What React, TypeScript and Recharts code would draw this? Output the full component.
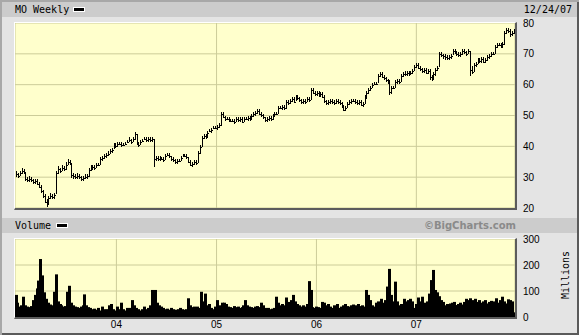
import { ComposedChart, Bar, XAxis, YAxis, CartesianGrid } from 'recharts'

// weekly MO bars, 12/30/02 .. 12/24/07
const closes = [
  31, 30.5, 31.5, 32, 31.5, 29.5, 29, 29.5, 29, 28.5,
  29, 28, 27, 25.5, 24, 22, 21.5, 23.5, 24, 23.5,
  24.5, 31.5, 32.5, 32, 33, 32.5, 34, 35, 34.5, 30.5,
  30.5, 30, 30.5, 30, 29.5, 30, 30, 30.5, 32.5, 33,
  33.5, 33, 34, 34, 36, 36.5, 37, 37.5, 37.5, 38.5,
  39, 40.5, 40, 41, 41, 40.5, 40.5, 41, 41.5, 42,
  41.5, 42.5, 44, 41, 40.5, 41.5, 42, 42.5, 42, 42.5,
  42, 42.5, 36, 36.5, 36, 36.5, 36, 35.5, 37, 37.5,
  37, 36, 35.5, 35, 35.5, 35.5, 36.5, 37, 37, 36.5,
  35, 34, 34.5, 35, 34.5, 38, 40, 43, 43.5, 43,
  44.5, 45, 45.5, 46, 46, 46.5, 47, 50.5, 49.5, 49,
  49, 48.5, 48.5, 48.5, 48, 49, 48.5, 49, 48, 49,
  49, 49.5, 49, 50, 50.5, 51, 51.5, 50.5, 50, 49.5,
  48.5, 49, 49.5, 49, 50, 50.5, 50.5, 52.5, 52.5, 53,
  52.5, 54.5, 54, 55, 55.5, 54.5, 56, 55.5, 55, 54.5,
  55, 54.5, 55.5, 55, 58.5, 57.5, 57, 57.5, 56.5, 57,
  56, 54.5, 54, 54.5, 55, 54.5, 54, 55, 54.5, 54,
  53, 52, 52.5, 54, 54.5, 55, 55, 54.5, 54, 54.5,
  53.5, 54, 56, 57.5, 58.5, 59, 60, 60.5, 60.5, 63,
  63.5, 62.5, 62, 61.5, 61, 57.5, 59, 59, 61, 61.5,
  61, 63, 63.5, 63.5, 64, 63.5, 64, 64.5, 66, 66.5,
  65.5, 65, 64.5, 65, 64, 64.5, 62.5, 62, 63.5, 65,
  65.5, 70, 69.5, 69.5, 69, 68.5, 69, 69.5, 71, 70.5,
  70, 69.5, 70, 71, 70.5, 70, 71, 65, 64, 66.5,
  67, 68, 67.5, 68.5, 67.5, 68, 69, 69.5, 70, 70,
  72.5, 73, 73, 72.5, 73.5, 77, 78, 77.5, 76.5, 77,
  77.5,
]

const highs = [
  32, 31.5, 32, 33, 32.5, 31.5, 30, 30.5, 30, 29.5,
  29.5, 29.5, 28.5, 27.5, 26, 24.5, 23, 24, 25, 24.5,
  25, 32, 33.5, 33, 34, 33.5, 35, 36, 35.5, 34.5,
  31.5, 31, 31.5, 31, 30.5, 30.5, 31, 31, 33, 34,
  34, 34, 34.5, 34.5, 36.5, 37, 37.5, 38, 38.5, 39,
  39.5, 41, 41, 41.5, 41.5, 41.5, 41, 41.5, 42, 43,
  42.5, 43, 44.5, 44, 41.5, 42, 42.5, 43, 43, 43,
  43, 43, 42.5, 37, 37, 37, 36.5, 36.5, 37.5, 38,
  38, 37, 36.5, 36, 36, 36, 37, 37.5, 37.5, 37.5,
  36.5, 35.5, 35, 35.5, 35.5, 38.5, 40.5, 43.5, 44, 44,
  45, 45.5, 46, 46.5, 46.5, 47, 47.5, 51, 51, 50,
  49.5, 49.5, 49, 49, 49, 49.5, 49.5, 49.5, 49.5, 49.5,
  49.5, 50, 50, 50.5, 51, 51.5, 52, 52, 51, 50.5,
  49.5, 49.5, 50, 50, 50.5, 51, 51, 53, 53, 53.5,
  53.5, 55, 55, 55.5, 56, 56, 56.5, 56.5, 56, 55.5,
  55.5, 55.5, 56, 56, 59, 59, 58, 58, 58, 57.5,
  57.5, 56.5, 55, 55, 55.5, 55.5, 55, 55.5, 55.5, 55,
  54.5, 53.5, 53, 54.5, 55, 55.5, 55.5, 55.5, 55, 55,
  55, 54.5, 56.5, 58, 59, 59.5, 60.5, 61, 61, 63.5,
  64, 64, 63, 62.5, 62, 61.5, 59.5, 59.5, 61.5, 62,
  62, 63.5, 64, 64.5, 64.5, 64.5, 64.5, 65, 66.5, 67,
  67, 66, 65.5, 65.5, 65.5, 65, 65, 63, 64, 65.5,
  66, 70.5, 70.5, 70, 70, 69.5, 69.5, 70, 71.5, 71.5,
  71, 70.5, 70.5, 71.5, 71.5, 71, 71.5, 71, 66, 67,
  67.5, 68.5, 68.5, 69, 69, 68.5, 69.5, 70, 70.5, 70.5,
  73, 73.5, 73.5, 73.5, 74, 77.5, 78.5, 78.5, 78, 77.5,
  78,
]

const lows = [
  30, 30, 30.5, 31, 31, 29, 28.5, 28.5, 28.5, 28,
  28, 27.5, 26.5, 25, 23.5, 21.5, 20.5, 21.5, 23, 23,
  23, 24.5, 31, 31.5, 32, 32, 32.5, 34, 34, 29.5,
  29.5, 29.5, 29.5, 29.5, 29, 29, 29.5, 29.5, 30, 32,
  32.5, 32.5, 33, 33.5, 34, 35.5, 36, 36.5, 37, 37.5,
  38, 39, 39.5, 40, 40.5, 40, 40, 40.5, 41, 41.5,
  41, 41.5, 42, 40.5, 40, 40.5, 41.5, 42, 41.5, 41.5,
  41.5, 41.5, 33.5, 35.5, 35.5, 35.5, 35.5, 35, 35.5, 37,
  36.5, 35.5, 35, 34.5, 34.5, 35, 35.5, 36.5, 36.5, 36,
  34.5, 33.5, 33.5, 34, 34, 34.5, 37.5, 40, 42.5, 42.5,
  43, 44.5, 44.5, 45.5, 45.5, 45.5, 46, 46.5, 49, 48.5,
  48.5, 48, 48, 48, 47.5, 48, 48, 48, 47.5, 48,
  48.5, 48.5, 48.5, 49, 49.5, 50, 50.5, 50, 49.5, 49,
  48, 48, 48.5, 48.5, 48.5, 49.5, 50, 50.5, 52, 52,
  52, 52, 53.5, 54, 54.5, 54, 54.5, 55, 54.5, 54,
  54, 54, 54.5, 54.5, 55, 57, 56.5, 56.5, 56, 56,
  55.5, 54, 53.5, 53.5, 54, 54, 53.5, 54, 54, 53.5,
  52.5, 51.5, 51.5, 52.5, 53.5, 54, 54.5, 54, 53.5, 53.5,
  53, 53, 53.5, 55.5, 57, 58, 59, 60, 60, 60.5,
  62.5, 62, 61.5, 61, 60.5, 56.5, 57, 58.5, 59, 60.5,
  60.5, 61, 62.5, 63, 63, 63, 63.5, 63.5, 64.5, 65.5,
  65, 64.5, 64, 64, 63.5, 63.5, 61.5, 61, 61.5, 63,
  64.5, 65.5, 69, 68.5, 68, 68, 68, 68.5, 69.5, 70,
  69.5, 69, 69, 69.5, 70, 69.5, 70, 63, 63.5, 64,
  66, 66.5, 67, 67, 67, 67, 67.5, 68.5, 69, 69.5,
  70, 72, 72.5, 72, 72, 73, 76.5, 77, 75.5, 76,
  76.5,
]

// millions of shares
const volumes = [
  85, 55, 40, 45, 78, 45, 40, 38, 42, 65,
  85, 110, 140, 223, 160, 95, 70, 55, 48, 45,
  97, 164, 60, 50, 45, 40, 42, 97, 120, 55,
  45, 40, 38, 35, 40, 45, 87, 45, 38, 35,
  30, 32, 28, 35, 25, 40, 30, 28, 30, 45,
  50, 30, 25, 40, 30, 55, 30, 25, 35, 30,
  35, 65, 45, 35, 30, 25, 30, 40, 30, 35,
  45, 104, 60, 104, 55, 45, 40, 35, 30, 32,
  28, 35, 30, 25, 28, 30, 35, 30, 28, 30,
  72, 45, 38, 40, 35, 40, 35, 97, 60, 90,
  45, 50, 35, 30, 40, 65, 40, 45, 55, 55,
  50, 40, 38, 35, 42, 38, 40, 35, 38, 45,
  65, 45, 40, 38, 35, 40, 42, 38, 55, 45,
  35, 33, 35, 30, 32, 35, 78, 55, 45, 50,
  45, 75, 58, 55, 65, 85, 60, 50, 45, 40,
  45, 40, 50, 138, 104, 38, 35, 40, 38, 35,
  58, 55, 45, 50, 40, 35, 45, 38, 50, 35,
  40, 45, 50, 42, 40, 45, 48, 40, 45, 50,
  42, 45, 40, 104, 85, 65, 45, 40, 55, 60,
  50, 70, 55, 65, 117, 185, 85, 60, 136, 60,
  45, 50, 40, 70, 60, 65, 70, 60, 35, 50,
  75, 60, 78, 55, 52, 60, 90, 142, 181, 104,
  95, 80, 65, 58, 45, 50, 40, 52, 55, 58,
  46, 50, 55, 48, 58, 70, 65, 72, 60, 65,
  70, 58, 65, 55, 60, 65, 52, 58, 62, 55,
  60, 72, 55, 65, 78, 60, 52, 68, 65, 60,
  18,
]

const priceTicks = [20, 30, 40, 50, 60, 70, 80]
const volumeTicks = [0, 100, 200, 300]
const tickYears = [2004, 2005, 2006, 2007]
const tickLabels = ['04', '05', '06', '07']

const DAY = 86400000
const FIRST_WEEK = Date.UTC(2002, 11, 30)
const weeks = closes.map((_, i) => FIRST_WEEK + i * 7 * DAY)
const yearTicks = tickYears.map(y => Date.UTC(y, 0, 1))
const xDomain = [weeks[0] - 3.5 * DAY, weeks[weeks.length - 1] + 3.5 * DAY]

const rows = weeks.map((t, i) => ({
  t,
  high: highs[i],
  low: lows[i],
  close: closes[i],
  volume: volumes[i],
}))

const MONO = '"DejaVu Sans Mono", monospace'
const SANS = '"Liberation Sans", Arial, sans-serif'
const GRID = '#cccc99'
const PLOT_BG = '#ffffcc'

// weekly HLC bar: 1px high-low line plus close tick on the right
function PriceBar(props: any) {
  const { x, y, width, height, payload } = props
  if (x == null || !payload) return null
  const top = Math.round(height < 0 ? y + height : y)
  const h = Math.max(Math.round(Math.abs(height)), 2)
  const span = payload.high - payload.low
  const cy = span > 0 ? top + ((payload.high - payload.close) / span) * h : top
  const cx = Math.round(x + width / 2)
  return (
    <g>
      <rect x={cx} y={top} width={1} height={h} fill="#000" />
      <rect x={cx + 1} y={Math.min(Math.round(cy), top + h - 1)} width={1} height={1} fill="#000" />
    </g>
  )
}

// volume bar wide enough to leave no gaps between weeks
function VolumeBar(props: any) {
  const { x, y, width, height } = props
  if (x == null || !height) return null
  return <rect x={Math.floor(x)} y={y} width={Math.ceil(width) + 1} height={height} fill="#000" />
}

const label = (extra: React.CSSProperties): React.CSSProperties => ({
  position: 'absolute',
  fontFamily: MONO,
  fontSize: 10,
  lineHeight: '10px',
  color: '#000',
  whiteSpace: 'nowrap',
  ...extra,
})

const swatch = (left: number, top: number): React.CSSProperties => ({
  position: 'absolute',
  left,
  top,
  width: 12,
  height: 5,
  boxSizing: 'border-box',
  border: '1px solid #fff',
  background: '#000',
})

const bevel = (top: number, height: number): React.CSSProperties => ({
  position: 'absolute',
  left: 14,
  top,
  width: 503,
  height,
  boxSizing: 'border-box',
  borderTop: '1px solid #fff',
  borderLeft: '1px solid #fff',
  borderRight: '2px solid #5c5c5c',
  borderBottom: '2px solid #5c5c5c',
  pointerEvents: 'none',
})

export default function App() {
  return (
    <div
      style={{
        position: 'relative',
        width: 579,
        height: 335,
        background: '#e4e4e4',
        boxShadow: 'inset 2px 2px 0 #a8a8a8, inset -2px -2px 0 #5a5a5a',
        overflow: 'hidden',
      }}
    >
      <style>{'body{margin:0}'}</style>

      <div style={{ position: 'absolute', left: 2, top: 2, width: 575, height: 15, background: '#cccccc' }} />
      <div style={label({ left: 15, top: 5 })}>MO Weekly</div>
      <div style={swatch(73, 7)} />
      <div style={label({ right: 7, top: 5 })}>12/24/07</div>

      <div style={{ position: 'absolute', left: 2, top: 218, width: 575, height: 15, background: '#cccccc' }} />
      <div style={label({ left: 15, top: 221 })}>Volume</div>
      <div style={swatch(56, 223)} />
      <div
        style={label({
          right: 63,
          top: 221,
          fontFamily: '"DejaVu Sans", sans-serif',
          fontWeight: 'bold',
          color: '#8a8a8a',
        })}
      >
        ©BigCharts.com
      </div>

      <div style={{ position: 'absolute', left: 0, top: 0 }}>
        <ComposedChart width={579} height={335} data={rows} margin={{ top: 23, right: 0, bottom: 127, left: 15 }}>
          <CartesianGrid stroke={GRID} fill={PLOT_BG} fillOpacity={1} />
          <XAxis
            dataKey="t"
            type="number"
            domain={xDomain}
            ticks={yearTicks}
            allowDataOverflow
            hide
          />
          <YAxis
            orientation="right"
            width={64}
            domain={[20, 80]}
            ticks={priceTicks}
            allowDataOverflow
            axisLine={false}
            tickLine={false}
            tickSize={0}
            tickMargin={8}
            tick={{ fontSize: 10, fill: '#000', fontFamily: SANS }}
          />
          <Bar
            dataKey={(d: any) => [d.low, d.high]}
            barSize={2}
            shape={(p: any) => <PriceBar {...p} />}
            isAnimationActive={false}
          />
        </ComposedChart>
      </div>

      <div style={{ position: 'absolute', left: 0, top: 0 }}>
        <ComposedChart width={579} height={335} data={rows} margin={{ top: 239, right: 0, bottom: 0, left: 15 }}>
          <CartesianGrid stroke={GRID} fill={PLOT_BG} fillOpacity={1} />
          <XAxis
            dataKey="t"
            type="number"
            domain={xDomain}
            ticks={yearTicks}
            interval={0}
            allowDataOverflow
            height={18}
            axisLine={false}
            tickLine={false}
            tickSize={0}
            tickMargin={4}
            tickFormatter={(v: number) => tickLabels[yearTicks.indexOf(v)] ?? ''}
            tick={{ fontSize: 10, fill: '#000', fontFamily: SANS }}
          />
          <YAxis
            orientation="right"
            width={64}
            domain={[0, 300]}
            ticks={volumeTicks}
            allowDataOverflow
            axisLine={false}
            tickLine={false}
            tickSize={0}
            tickMargin={8}
            tick={{ fontSize: 10, fill: '#000', fontFamily: SANS }}
          />
          <Bar
            dataKey="volume"
            barSize={2}
            fill="#000"
            shape={(p: any) => <VolumeBar {...p} />}
            isAnimationActive={false}
          />
        </ComposedChart>
      </div>

      <div style={bevel(22, 188)} />
      <div style={bevel(238, 81)} />

      <div
        style={label({
          left: 536,
          top: 270,
          width: 60,
          textAlign: 'center',
          transform: 'rotate(-90deg)',
        })}
      >
        Millions
      </div>
    </div>
  )
}
